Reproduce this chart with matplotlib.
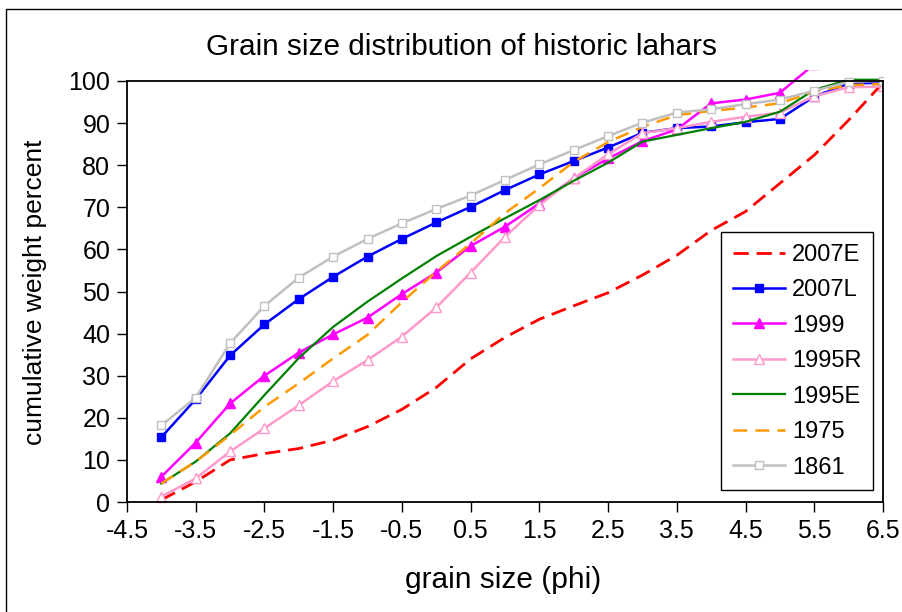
import matplotlib
matplotlib.use("Agg")
import matplotlib.pyplot as plt
from matplotlib.patches import Rectangle

plt.rcParams['font.family'] = ['Liberation Sans', 'DejaVu Sans']

phi = [-4, -3.5, -3, -2.5, -2, -1.5, -1, -0.5, 0, 0.5, 1, 1.5, 2, 2.5,
       3, 3.5, 4, 4.5, 5, 5.5, 6, 6.5]

s2007E = [0.5, 4.8, 10.0, 11.5, 12.7, 14.7, 17.9, 22.0, 27.2, 34.0, 39.1,
          43.4, 46.6, 49.7, 53.9, 58.6, 64.5, 69.0, 75.7, 82.4, 90.7, 99.6]
s2007L = [15.4, 24.4, 34.8, 42.2, 48.2, 53.5, 58.3, 62.5, 66.4, 70.1, 74.1,
          77.8, 81.0, 84.2, 87.7, 88.8, 89.2, 90.2, 91.0, 96.3, 99.4, 99.6]
s1999 = [6.0, 14.1, 23.4, 30.0, 35.5, 39.8, 43.8, 49.4, 54.5, 60.8, 65.4,
         70.9, 76.9, 81.6, 85.7, 88.5, 94.7, 95.6, 97.2, 104.0, 108.0, 110.0]
s1995R = [1.3, 5.6, 12.0, 17.5, 23.0, 28.7, 33.7, 39.3, 46.2, 54.5, 63.0,
          70.5, 76.9, 82.6, 87.6, 88.8, 90.3, 91.5, 92.5, 96.4, 98.5, 98.7]
s1995E = [4.4, 9.6, 16.3, 25.4, 34.2, 41.6, 47.6, 53.1, 58.4, 63.0, 67.4,
          71.7, 76.3, 80.6, 85.6, 87.2, 88.8, 90.3, 92.7, 97.9, 100.3, 100.3]
s1975 = [4.4, 9.6, 15.9, 22.6, 28.2, 34.1, 39.7, 47.5, 54.7, 61.4, 68.6,
         74.5, 80.8, 85.5, 89.1, 91.9, 92.9, 93.7, 94.7, 97.5, 99.0, 99.3]
s1861 = [18.2, 24.8, 37.7, 46.6, 53.3, 58.3, 62.5, 66.2, 69.6, 72.8, 76.5,
         80.2, 83.6, 86.9, 90.1, 92.5, 93.3, 94.5, 95.6, 97.7, 99.8, 100.0]

xticks = [-4.5, -3.5, -2.5, -1.5, -0.5, 0.5, 1.5, 2.5, 3.5, 4.5, 5.5, 6.5]
xtick_labels = ["-4.5", "-3.5", "-2.5", "-1.5", "-0.5", "0.5", "1.5", "2.5",
                "3.5", "4.5", "5.5", "6.5"]
yticks = [0, 10, 20, 30, 40, 50, 60, 70, 80, 90, 100]

W, H = 902, 612
fig = plt.figure(figsize=(W / 100, H / 100), dpi=100)
ax = fig.add_axes([127 / W, 1 - 502 / H, 756 / W, 421 / H])

series = [
    ("2007E", s2007E, dict(color="#FF0000", lw=2.0, dashes=(5.5, 2.8))),
    ("2007L", s2007L, dict(color="#0000FF", lw=1.8, marker="s", ms=5.5,
                           mfc="#0000FF", mec="#0000FF")),
    ("1999", s1999, dict(color="#FF00FF", lw=1.8, marker="^", ms=6.5,
                         mfc="#FF00FF", mec="#FF00FF")),
    ("1995R", s1995R, dict(color="#FF99CC", lw=1.8, marker="^", ms=7.5,
                           mfc="white", mec="#FF99CC", mew=1.0)),
    ("1995E", s1995E, dict(color="#008000", lw=1.6)),
    ("1975", s1975, dict(color="#FF9900", lw=1.8, dashes=(5.5, 3.3))),
    ("1861", s1861, dict(color="#C0C0C0", lw=1.8, marker="s", ms=5.5,
                         mfc="white", mec="#C0C0C0", mew=1.0)),
]

clip = Rectangle((0, -0.02), 1.0, 1.047, transform=ax.transAxes,
                 facecolor="none", edgecolor="none")
ax.add_patch(clip)
for name, vals, kw in series:
    line, = ax.plot(phi, vals, label=name, **kw)
    line.set_clip_path(clip)

ax.set_xlim(-4.5, 6.5)
ax.set_ylim(0, 100)
ax.set_xticks(xticks)
ax.set_xticklabels(xtick_labels)
ax.set_yticks(yticks)
ax.tick_params(axis="both", direction="out", length=7, width=1.0,
               labelsize=18, colors="black", pad=5)
for sp in ax.spines.values():
    sp.set_linewidth(1.3)
    sp.set_color("black")

fig.text(461 / W, 1 - 47 / H, "Grain size distribution of historic lahars",
         ha="center", va="center", fontsize=21.4)
fig.text(503 / W, 1 - 580 / H, "grain size (phi)", ha="center", va="center",
         fontsize=21.5)
fig.text(35 / W, 1 - 292 / H, "cumulative weight percent", ha="center",
         va="center", rotation=90, fontsize=19)

leg = ax.legend(loc="upper left", bbox_to_anchor=(721 / W, 1 - 232 / H),
                bbox_transform=fig.transFigure, fontsize=17, frameon=True,
                fancybox=False, edgecolor="black", framealpha=1,
                handlelength=2.2, handletextpad=0.3, labelspacing=0.57,
                borderpad=0.5, borderaxespad=0)
leg.get_frame().set_linewidth(1.0)

fig.patches.append(Rectangle((6 / W, -0.1), 2.0, (1 - 9 / H) + 0.1,
                             transform=fig.transFigure, facecolor="none",
                             edgecolor="black", linewidth=1.0))

fig.savefig("out.png", dpi=100)
